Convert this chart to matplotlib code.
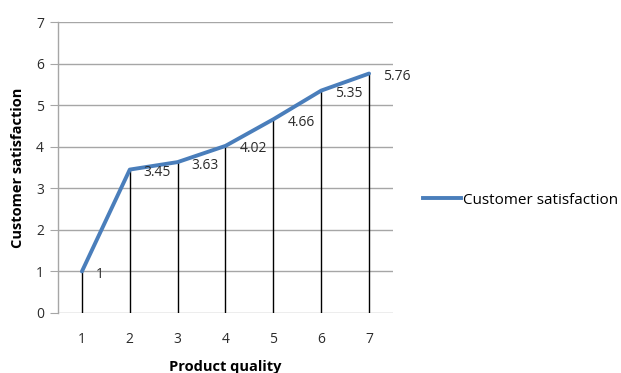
import matplotlib.pyplot as plt
from matplotlib.lines import Line2D

quality = [1, 2, 3, 4, 5, 6, 7]
satisfaction = [1, 3.45, 3.63, 4.02, 4.66, 5.35, 5.76]
point_labels = ["1", "3.45", "3.63", "4.02", "4.66", "5.35", "5.76"]
y_ticks = [0, 1, 2, 3, 4, 5, 6, 7]
series_name = "Customer satisfaction"

plt.rcParams['font.family'] = ['Open Sans', 'DejaVu Sans']

fig = plt.figure(figsize=(6.21, 3.73), dpi=100)
ax = fig.add_axes([58 / 621, 1 - 313 / 373, (393 - 58) / 621, (313 - 22) / 373])

line_color = '#4a7ebb'
grid_color = '#a6a6a6'
text_color = '#2b2b2b'

ax.plot(quality, satisfaction, color=line_color, lw=2.8, solid_capstyle='round',
        solid_joinstyle='round', zorder=3)
ax.vlines(quality, 0, satisfaction, color='black', lw=1.0, zorder=2)

for x, y, s in zip(quality, satisfaction, point_labels):
    ax.annotate(s, (x, y), xytext=(14, -3), textcoords='offset pixels',
                ha='left', va='center', fontsize=10, color=text_color, zorder=4)

ax.set_xlim(0.5, 7.5)
ax.set_ylim(0, 7)
ax.set_yticks(y_ticks)
ax.set_xticks(quality)
ax.yaxis.grid(True, color=grid_color, lw=1.0)
ax.set_axisbelow(True)

for side in ['top', 'right', 'bottom']:
    ax.spines[side].set_visible(False)
ax.spines['left'].set_color(grid_color)
ax.spines['left'].set_linewidth(1.0)

ax.tick_params(axis='y', length=6, color=grid_color, labelsize=10, pad=4, labelcolor=text_color)
ax.tick_params(axis='x', length=0, labelsize=10, pad=14, labelcolor=text_color)

ax.set_xlabel("Product quality", fontsize=10.5, fontweight='bold', labelpad=9)
ax.set_ylabel(series_name, fontsize=10.5, fontweight='bold', labelpad=8)

handle = Line2D([], [], color=line_color, lw=2.8)
fig.legend([handle], [series_name], loc='center left', bbox_to_anchor=(417 / 621, 1 - 200 / 373),
           frameon=False, fontsize=11, handlelength=2.5, handletextpad=0.1, borderaxespad=0)

fig.savefig('out.png', dpi=100)
